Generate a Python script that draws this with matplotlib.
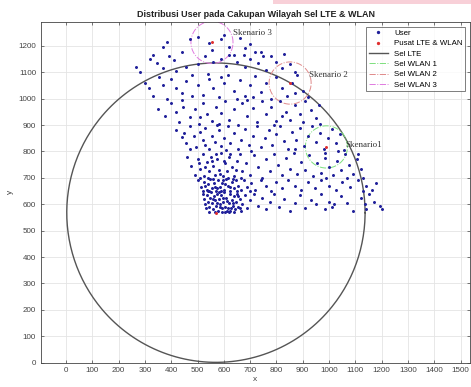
import numpy as np
import matplotlib
matplotlib.use('Agg')
import matplotlib.pyplot as plt
from matplotlib.patches import Rectangle

# user positions (approx.)
pts = [
    # top band
    (370,1195),(385,1215),(470,1225),(500,1235),(545,1210),(555,1185),(590,1225),(600,1240),(620,1195),(640,1165),
    (660,1230),(680,1190),(700,1205),(720,1175),(750,1160),(330,1165),
    (265,1120),(282,1102),(320,1150),(345,1135),(390,1160),(410,1145),(440,1175),(455,1120),(500,1130),(530,1160),
    (560,1140),(590,1150),(610,1125),(650,1140),(680,1120),(700,1150),(730,1135),(760,1110),(780,1160),(800,1140),
    (820,1115),(850,1130),(870,1100),(740,1175),(420,1105),(370,1115),(620,1165),(675,1165),(830,1170),
    # 1000-1100
    (300,1060),(315,1040),(355,1080),(370,1050),(330,1010),(385,1000),(400,1075),(420,1040),(440,1020),(455,1065),
    (480,1090),(500,1050),(520,1015),(545,1075),(560,1040),(580,1005),(600,1060),(615,1090),(640,1030),(660,1070),
    (680,1010),(700,1050),(720,1085),(740,1025),(760,1060),(780,1000),(800,1080),(820,1040),(840,1010),(860,1060),
    (880,1090),(900,1030),(920,1005),(480,1010),(540,1095),(650,1000),(710,1005),(870,1020),(590,1080),
    # 900-1000
    (350,960),(375,935),(400,985),(420,950),(430,910),(445,970),(470,930),(490,960),(505,905),(520,985),
    (535,940),(555,915),(570,970),(590,945),(605,990),(620,920),(640,960),(655,900),(670,985),(690,935),
    (710,965),(725,910),(745,990),(760,940),(780,970),(800,915),(815,990),(835,950),(850,920),(870,975),
    (890,940),(910,990),(930,955),(950,925),(960,975),(440,995),(510,930),(580,905),(690,995),(820,935),
    (900,910),(965,905),
    # 800-900
    (420,880),(440,855),(455,830),(470,895),(485,860),(495,815),(510,875),(520,845),(530,890),(545,810),
    (555,860),(565,835),(580,880),(590,820),(600,850),(615,895),(625,830),(640,870),(655,810),(665,845),
    (680,885),(695,825),(710,860),(725,895),(740,815),(755,850),(770,880),(785,825),(800,865),(815,895),
    (830,840),(845,810),(860,875),(875,845),(890,890),(905,820),(920,860),(935,895),(950,835),(965,870),
    (980,810),(995,850),(1010,885),(1025,830),(1040,865),(1055,805),(985,795),(1035,800),(450,870),(470,810),
    (530,825),(575,900),(610,805),(705,800),(790,900),(870,810),
    # 700-800
    (460,780),(475,745),(490,710),(500,770),(510,735),(520,790),(525,705),(535,760),(545,725),(550,780),
    (560,745),(565,710),(575,770),(580,730),(590,795),(595,705),(605,755),(612,725),(620,780),(630,740),
    (640,705),(650,765),(660,790),(670,725),(685,755),(700,710),(715,785),(730,740),(745,700),(760,770),
    (775,725),(790,790),(805,750),(820,710),(835,775),(850,735),(865,795),(880,715),(895,760),(910,730),
    (925,785),(940,705),(955,755),(970,720),(985,775),(1000,740),(1015,710),(1030,765),(1045,730),(1060,790),
    (1075,750),(1090,715),(1105,770),(1120,735),(1130,700),(540,700),(555,765),(585,715),(615,700),(625,790),
    (645,730),(505,755),(530,740),(570,790),(600,765),(665,700),(1070,700),(990,700),(1110,790),
    # 650-700
    (500,690),(515,665),(525,685),(535,655),(540,675),(548,695),(555,660),(562,680),(570,650),(578,690),
    (585,665),(592,680),(600,655),(608,695),(615,670),(622,650),(630,685),(640,660),(648,690),(655,670),
    (665,655),(675,690),(690,665),(705,680),(720,655),(740,690),(760,670),(780,650),(800,685),(820,660),
    (845,690),(870,670),(895,655),(920,685),(945,660),(970,690),(1000,670),(1025,655),(1050,685),(1080,665),
    (1110,690),(1140,670),(1165,655),(1180,680),(530,670),(545,650),(560,695),(575,660),(590,650),(605,675),
    (625,665),(635,695),(520,650),(510,700),(595,690),(565,665),(650,650),(700,650),(1130,650),
    # 570-650
    (520,640),(525,620),(530,600),(535,635),(540,610),(545,590),(548,625),(552,645),(556,605),(560,580),
    (563,630),(567,615),(570,595),(574,640),(578,575),(582,620),(586,600),(590,635),(594,585),(598,610),
    (602,645),(606,590),(610,625),(614,575),(618,605),(622,640),(626,585),(630,615),(634,595),(638,630),
    (642,580),(646,610),(650,640),(655,590),(660,620),(665,575),(670,600),(680,635),(690,585),(700,615),
    (715,640),(730,595),(745,625),(760,580),(775,610),(790,640),(810,590),(830,620),(850,575),(870,605),
    (890,635),(910,585),(930,615),(950,600),(970,640),(985,580),(1000,610),(1010,590),(1020,600),(1045,630),
    (1070,605),(1090,575),(1120,625),(1135,600),(1140,580),(1150,640),(1170,610),(1195,595),(1200,580),(585,590),
    (605,570),(625,575),(560,620),(545,570),(575,605),(595,625),(615,585),(635,605),(655,630),(540,650),
    (568,572),(592,572),(612,612),(532,585),(620,570),(640,570),(660,585),(580,645),
]
user_x = [p[0] for p in pts]
user_y = [p[1] for p in pts]

lte_center = (570, 568)
lte_radius = 567
wlan_x = [990, 852, 555]
wlan_y = [817, 1059, 1213]
wlan_radius = 80
wlan_colors = ['#7de07d', '#e08a8a', '#e07ae0']
wlan_names = ['Sel WLAN 1', 'Sel WLAN 2', 'Sel WLAN 3']
scen_labels = ['Skenario1', 'Skenario 2', 'Skenario 3']
scen_x = [1061, 924, 635]
scen_y = [824, 1090, 1248]

plt.rcParams['font.family'] = ['Liberation Sans', 'DejaVu Sans']
fig = plt.figure(figsize=(4.71, 3.87), dpi=100)
ax = fig.add_axes([0.087, 0.063, 0.911, 0.88])

ax.plot(user_x, user_y, '.', color='#20209a', markersize=2.3, label='User', zorder=3)
ax.plot([lte_center[0]] + wlan_x, [lte_center[1]] + wlan_y, '.', color='#e03030',
        markersize=2.3, label='Pusat LTE & WLAN', zorder=4)

t = np.linspace(0, 2 * np.pi, 400)
ax.plot(lte_center[0] + lte_radius * np.cos(t), lte_center[1] + lte_radius * np.sin(t),
        color='#555555', linewidth=1.0, label='Sel LTE')
for cx, cy, c, n in zip(wlan_x, wlan_y, wlan_colors, wlan_names):
    ax.plot(cx + wlan_radius * np.cos(t), cy + wlan_radius * np.sin(t), '-.',
            color=c, linewidth=0.7, label=n)

for lab, x, y in zip(scen_labels, scen_x, scen_y):
    ax.text(x, y, lab, fontsize=6.5, family='Liberation Serif', va='center', ha='left', color='#333333')

ax.set_xlim(-95, 1536)
ax.set_ylim(0, 1290)
ax.set_xticks(range(0, 1501, 100))
ax.set_yticks(range(0, 1201, 100))
ax.tick_params(labelsize=5.8, direction='in', length=2.5, colors='#444444', top=True, right=True,
               labeltop=False, labelright=False, width=0.5)
ax.grid(True, color='#e4e4e4', linewidth=0.6)
for s in ax.spines.values():
    s.set_color('#444444')
    s.set_linewidth(0.6)
ax.set_xlabel('x', fontsize=6, labelpad=1, color='#444444')
ax.set_ylabel('y', fontsize=6, labelpad=3, color='#444444')
ax.set_title('Distribusi User pada Cakupan Wilayah Sel LTE & WLAN', fontsize=6.5,
             fontweight='bold', pad=4, color='#222222')

leg = ax.legend(loc='upper right', fontsize=5.7, frameon=True, fancybox=False,
                edgecolor='#444444', borderaxespad=0.6, handlelength=2.4, labelspacing=0.35,
                borderpad=0.35, markerscale=1.2)
leg.get_frame().set_linewidth(0.6)

fig.add_artist(Rectangle((273 / 471, 1 - 4 / 387), 198 / 471, 4 / 387,
                         transform=fig.transFigure, color='#f8d0d8', linewidth=0))

fig.savefig('out.png', dpi=100)
